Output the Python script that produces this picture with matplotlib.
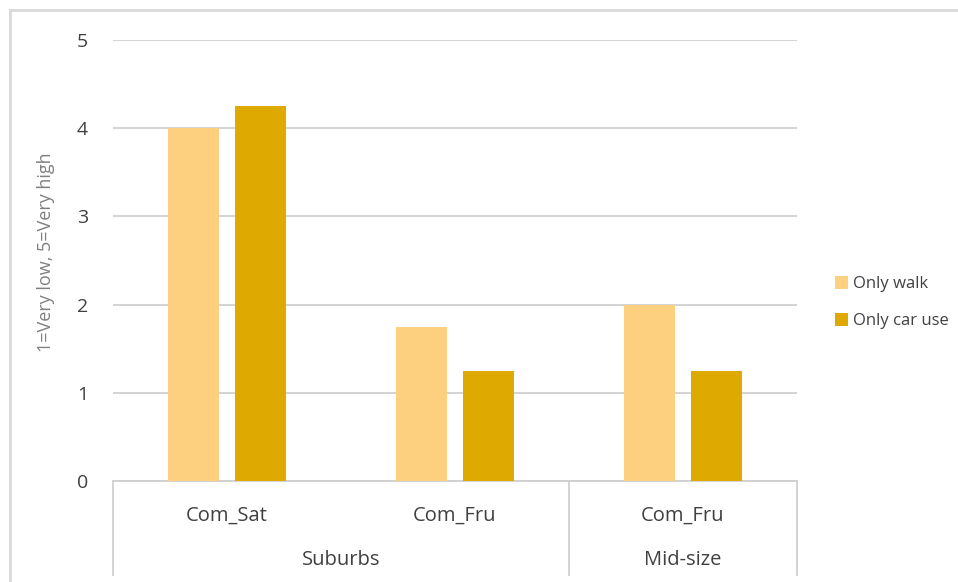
import matplotlib
matplotlib.use("Agg")
import matplotlib.pyplot as plt
import matplotlib.transforms as mtransforms
import numpy as np

plt.rcParams["font.family"] = ["Open Sans", "DejaVu Sans"]

categories = ["Com_Sat", "Com_Fru", "Com_Fru"]
groups = ["Suburbs", "Mid-size"]
group_spans = [(0, 1), (2, 2)]
only_walk = [4.0, 1.75, 2.0]
only_car = [4.25, 1.25, 1.25]
series_names = ["Only walk", "Only car use"]
y_label = "1=Very low, 5=Very high"

walk_color = "#FDD080"
car_color = "#DEA900"
text_color = "#404040"
line_color = "#D0D0D0"

W, H = 958, 582
fig = plt.figure(figsize=(W / 100, H / 100), dpi=100)
ax = fig.add_axes([113 / W, (H - 481) / H, (797 - 113) / W, (481 - 40) / H])

x = np.arange(len(categories))
bw = 0.224
off = 0.145
b1 = ax.bar(x - off, only_walk, bw, color=walk_color, label=series_names[0], zorder=3)
b2 = ax.bar(x + off, only_car, bw, color=car_color, label=series_names[1], zorder=3)

ax.set_xlim(-0.5, len(categories) - 0.5)
ax.set_ylim(0, 5)
ax.set_yticks(range(0, 6))
ax.yaxis.grid(True, color=line_color, linewidth=1.3, zorder=0)
ax.tick_params(axis="y", length=0, pad=18, labelsize=14, labelcolor=text_color)
for s in ["top", "right", "left"]:
    ax.spines[s].set_visible(False)
ax.spines["bottom"].set_color(line_color)
ax.spines["bottom"].set_linewidth(1.3)

ax.set_xticks([])
trans = mtransforms.blended_transform_factory(ax.transData, ax.transAxes)
ax_h = 481 - 40
for i, c in enumerate(categories):
    ax.text(i, -35 / ax_h, c, transform=trans, ha="center", va="center",
            fontsize=14.5, color=text_color)
for g, (a, b) in zip(groups, group_spans):
    ax.text((a + b) / 2, -79 / ax_h, g, transform=trans, ha="center", va="center",
            fontsize=14.5, color=text_color)

# separators of the two-level category axis
bottom = -94 / ax_h
for xv in [-0.5, 1.5, 2.5]:
    ax.plot([xv, xv], [0, bottom], transform=trans, color=line_color,
            linewidth=1.3, clip_on=False)

ax.set_ylabel(y_label, fontsize=13, color="#808080")
ax.yaxis.set_label_coords(-58 / (797 - 113), (481 - 252) / ax_h)

ax.legend(handles=[b1, b2], loc="upper left", bbox_to_anchor=(820 / W, 1 - 261 / H),
          bbox_transform=fig.transFigure, frameon=False, fontsize=12,
          handlelength=0.8, handleheight=0.8, handletextpad=0.3, labelspacing=1.25,
          labelcolor=text_color)

# outer chart frame (left and top edges)
fig.add_artist(plt.Line2D([10 / W, 10 / W], [0, 1 - 10 / H], transform=fig.transFigure,
                          color="#D9D9D9", linewidth=2))
fig.add_artist(plt.Line2D([10 / W, 1], [1 - 10 / H, 1 - 10 / H], transform=fig.transFigure,
                          color="#D9D9D9", linewidth=2))

fig.savefig("out.png", dpi=100)
